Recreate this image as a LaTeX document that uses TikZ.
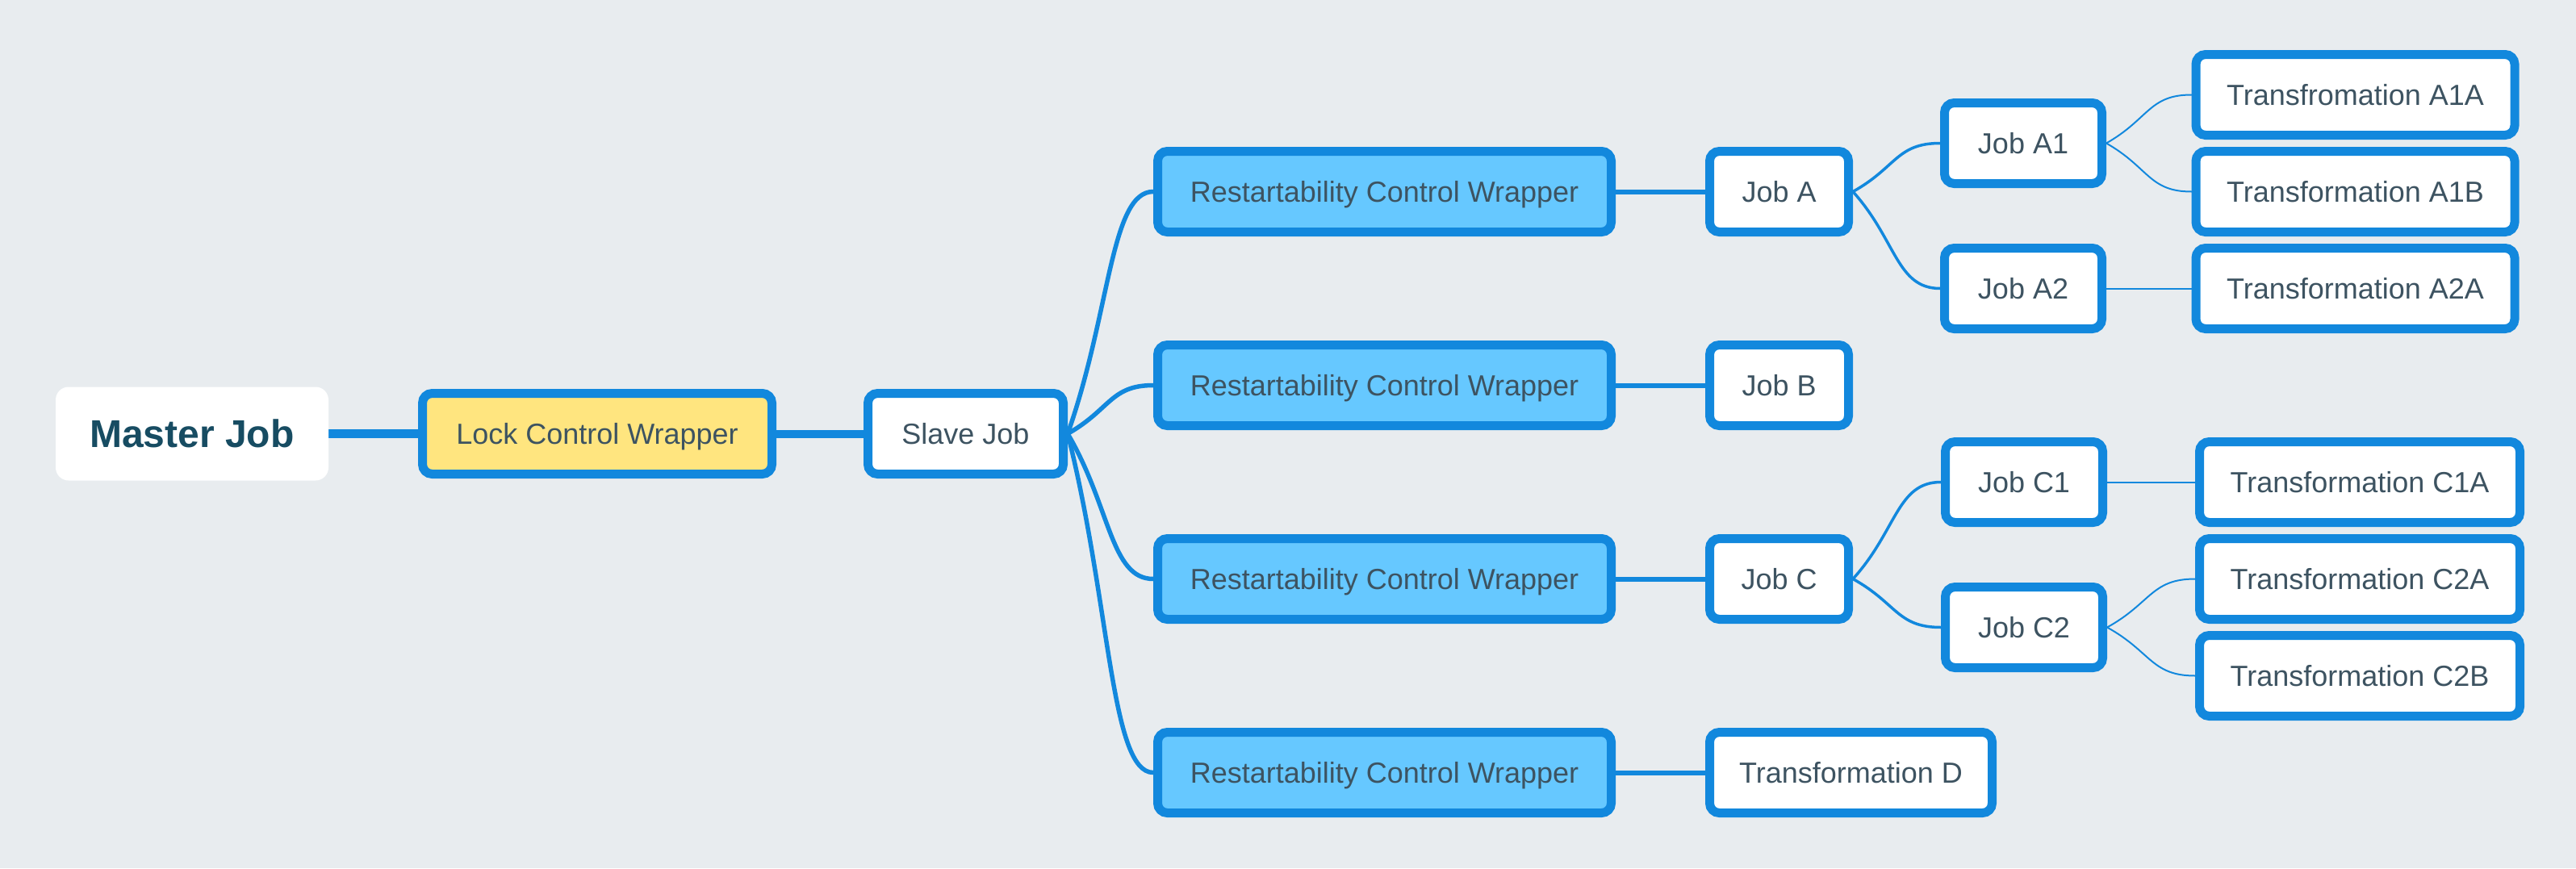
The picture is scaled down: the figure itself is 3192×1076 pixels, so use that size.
\documentclass[tikz,border=0pt]{standalone}
\usepackage{fontspec}
\setmainfont{Liberation Sans}
\usetikzlibrary{calc}
\definecolor{bgc}{HTML}{E8ECEF}
\definecolor{blu}{HTML}{1288DD}
\definecolor{rcwfill}{HTML}{66C8FF}
\definecolor{lockfill}{HTML}{FFE57F}
\definecolor{txt}{HTML}{3D5361}
\definecolor{mtxt}{HTML}{174C62}
\pgfdeclarelayer{background}
\pgfsetlayers{background,main}
\tikzset{
  box/.style={draw=blu, line width=11pt, rounded corners=12pt, fill=white,
    inner sep=0pt, minimum height=100pt, text=txt, text height=25.8pt, text depth=0pt,
    font=\fontsize{36}{40}\selectfont},
  rcw/.style={box, fill=rcwfill, minimum width=562pt},
  jobbox/.style={box, minimum width=172pt},
  subjob/.style={box, minimum width=195pt},
  trbox/.style={box, minimum width=395pt},
  conn/.style={draw=blu, line cap=round},
  curv/.style={to path={let \p1=(\tikztostart), \p2=(\tikztotarget) in
     .. controls ({(\x1+\x2)/2},{(\y1+\y2)/2}) and ({(\x1+\x2)/2},\y2) .. (\tikztotarget)}}
}
\begin{document}
\begin{tikzpicture}[x=1pt,y=-1pt]
\useasboundingbox (0,0) rectangle (3192,1076);
% nodes
\node[fill=white, rounded corners=16pt, minimum width=338pt, minimum height=116pt,
  inner sep=0pt, text=mtxt, text height=34.4pt, text depth=0pt,
  font=\fontsize{48}{52}\selectfont\bfseries] (master) at (238,537.5) {Master Job};
\node[box, fill=lockfill, minimum width=433pt] (lock) at (740,537.5) {Lock Control Wrapper};
\node[box, minimum width=242pt] (slave) at (1196.5,537.5) {Slave Job};
\node[rcw] (r1) at (1715.5,237.5) {Restartability Control Wrapper};
\node[rcw] (r2) at (1715.5,477.5) {Restartability Control Wrapper};
\node[rcw] (r3) at (1715.5,717.5) {Restartability Control Wrapper};
\node[rcw] (r4) at (1715.5,957.5) {Restartability Control Wrapper};
\node[jobbox] (ja) at (2204.5,237.5) {Job A};
\node[jobbox] (jb) at (2204.5,477.5) {Job B};
\node[jobbox] (jc) at (2204.5,717.5) {Job C};
\node[box, minimum width=350pt] (td) at (2293.5,957.5) {Transformation D};
\node[subjob] (ja1) at (2507,177.5) {Job A1};
\node[subjob] (ja2) at (2507,357.5) {Job A2};
\node[subjob] (jc1) at (2508,597.5) {Job C1};
\node[subjob] (jc2) at (2508,777.5) {Job C2};
\node[trbox] (t1a) at (2918.5,117.5) {Transfromation A1A};
\node[trbox] (t1b) at (2918.5,237.5) {Transformation A1B};
\node[trbox] (t2a) at (2918.5,357.5) {Transformation A2A};
\node[trbox, minimum width=397pt] (c1a) at (2924,597.5) {Transformation C1A};
\node[trbox, minimum width=397pt] (c2a) at (2924,717.5) {Transformation C2A};
\node[trbox, minimum width=397pt] (c2b) at (2924,837.5) {Transformation C2B};
% connectors
\begin{pgfonlayer}{background}
\fill[bgc] (0,0) rectangle (3192,1076);
\draw[conn, line width=11pt, line cap=butt] (master.east) -- (lock.west);
\draw[conn, line width=10pt, line cap=butt] (lock.east) -- (slave.west);
\foreach \r in {r1,r2,r3,r4}
  \draw[conn, line width=5.5pt] (slave.east) to[curv] (\r.west);
\draw[conn, line width=6pt] (r1.east) -- (ja.west);
\draw[conn, line width=6pt] (r2.east) -- (jb.west);
\draw[conn, line width=6pt] (r3.east) -- (jc.west);
\draw[conn, line width=6pt] (r4.east) -- (td.west);
\draw[conn, line width=3.5pt] (ja.east) to[curv] (ja1.west);
\draw[conn, line width=3.5pt] (ja.east) to[curv] (ja2.west);
\draw[conn, line width=3.5pt] (jc.east) to[curv] (jc1.west);
\draw[conn, line width=3.5pt] (jc.east) to[curv] (jc2.west);
\draw[conn, line width=2pt] (ja1.east) to[curv] (t1a.west);
\draw[conn, line width=2pt] (ja1.east) to[curv] (t1b.west);
\draw[conn, line width=2pt] (ja2.east) -- (t2a.west);
\draw[conn, line width=2pt] (jc1.east) -- (c1a.west);
\draw[conn, line width=2pt] (jc2.east) to[curv] (c2a.west);
\draw[conn, line width=2pt] (jc2.east) to[curv] (c2b.west);
\end{pgfonlayer}
\end{tikzpicture}
\end{document}
